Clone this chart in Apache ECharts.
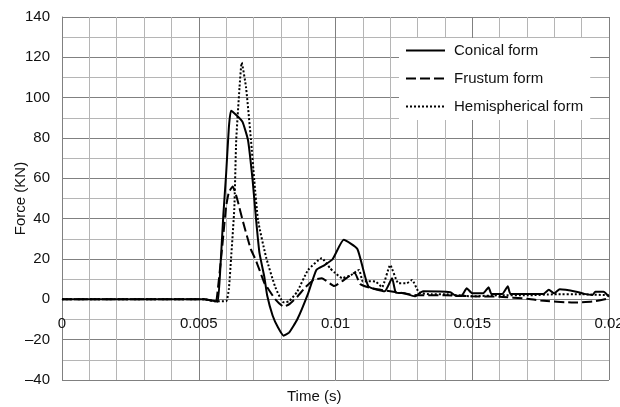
<!DOCTYPE html>
<html>
<head>
<meta charset="utf-8">
<script src="https://cdn.jsdelivr.net/npm/echarts@6/dist/echarts.min.js"></script>
<style>
  html, body { margin: 0; padding: 0; background: #fff; }
  #chart { width: 620px; height: 407px; }
</style>
</head>
<body>
<div id="chart"></div>
<script>
// [time (s), force (kN)]
const conical = [
  [0, 0], [0.0052, 0], [0.0056, -1], [0.0057, -1.2], [0.0058, 18], [0.0059, 42],
  [0.006, 62], [0.0061, 85], [0.00618, 93.5], [0.0064, 91], [0.0066, 88],
  [0.0068, 79], [0.00697, 59], [0.0071, 39], [0.00722, 23], [0.0074, 11],
  [0.0075, 2], [0.0077, -8], [0.0079, -14], [0.0081, -18], [0.0083, -16.5],
  [0.0086, -10], [0.009, 3], [0.0093, 14.6], [0.0096, 17], [0.0099, 20],
  [0.0103, 29.5], [0.0108, 25], [0.0112, 6.5], [0.0118, 4], [0.01207, 10.5],
  [0.0122, 3.5], [0.0125, 3], [0.0129, 1.5], [0.0132, 4], [0.0142, 3.5],
  [0.0144, 1.7], [0.0146, 1.7], [0.0148, 5.5], [0.015, 3], [0.0154, 3],
  [0.0156, 6], [0.0157, 2.7], [0.0161, 2.7], [0.0163, 6.5], [0.0164, 2.7],
  [0.0176, 2.7], [0.0178, 4.7], [0.018, 3], [0.0182, 5], [0.0188, 3.8],
  [0.0191, 2.7], [0.0194, 2.2], [0.0195, 3.8], [0.0198, 3.8], [0.02, 1.3]
];
const frustum = [
  [0, 0], [0.0052, 0], [0.0056, -1], [0.00565, -0.5], [0.0058, 18], [0.0059, 32],
  [0.006, 46], [0.0061, 53], [0.00624, 56], [0.0064, 50], [0.0066, 39.4],
  [0.0069, 25], [0.0071, 19], [0.0074, 8], [0.0075, 6], [0.0078, 0],
  [0.0081, -3.6], [0.0083, -2.5], [0.0086, 1.3], [0.0089, 6], [0.0092, 9.6],
  [0.0095, 10.5], [0.00995, 6.6], [0.0104, 10.5], [0.0107, 13.2], [0.0109, 7.6],
  [0.0113, 5.5], [0.012, 4], [0.0125, 3], [0.013, 2], [0.014, 2], [0.015, 1.5],
  [0.016, 1.3], [0.017, 0.3], [0.0175, -0.6], [0.0187, -1.6], [0.0194, -1.1],
  [0.02, 0.5]
];
const hemispherical = [
  [0, 0], [0.0052, 0], [0.0056, -1], [0.006, -1], [0.0061, 5], [0.00618, 20],
  [0.0063, 45], [0.00637, 79], [0.00649, 105], [0.00657, 117.4], [0.00673, 105],
  [0.00691, 79], [0.00703, 59], [0.00717, 39], [0.00746, 21], [0.0078, 6],
  [0.0081, -1.5], [0.0083, -1], [0.0086, 3.8], [0.009, 14.6], [0.0095, 20.4],
  [0.0098, 15.4], [0.00995, 13.5], [0.01025, 10.5], [0.01056, 12], [0.01086, 14.6],
  [0.011, 8.8], [0.0112, 9], [0.01147, 8.8], [0.0117, 6], [0.012, 17],
  [0.0123, 8], [0.0126, 8], [0.0128, 9.6], [0.01305, 3.5], [0.0135, 2.5],
  [0.014, 2.5], [0.015, 1.5], [0.016, 2], [0.017, 2], [0.018, 2.5], [0.019, 2.5],
  [0.02, 2]
];
const seriesNames = ["Conical form", "Frustum form", "Hemispherical form"];
const lineTypes = ["solid", [10, 4], [2, 2]];

const font = "'Liberation Sans', Arial, sans-serif";
const majorGrid = "#808080";
const minorGrid = "#b5b5b5";

// grid box in px; the time axis sits on the force = 0 line
const gridTop = 17, gridBottom = 27, plotH = 407 - gridTop - gridBottom;
const zeroOffset = -plotH * 40 / 180;

const chart = echarts.init(document.getElementById("chart"));
chart.setOption({
  animation: false,
  backgroundColor: "#fff",
  textStyle: { fontFamily: font },
  grid: {
    left: 62, right: 11, top: gridTop, bottom: gridBottom,
    containLabel: false, outerBoundsMode: "none",
  },
  legend: {
    orient: "vertical",
    left: 399,
    top: 38,
    padding: [5, 7, 6, 6],
    backgroundColor: "#fff",
    itemWidth: 39,
    itemHeight: 14,
    itemGap: 13,
    itemStyle: { opacity: 0 },
    textStyle: { fontFamily: font, fontSize: 15, color: "#111", padding: [0, 0, 0, 4] },
    data: seriesNames,
  },
  xAxis: {
    type: "value",
    min: 0,
    max: 0.02,
    interval: 0.005,
    offset: zeroOffset,
    axisLine: { show: true, onZero: false, lineStyle: { color: majorGrid } },
    axisTick: { show: false },
    axisLabel: {
      color: "#111",
      fontSize: 15,
      margin: 17,
      formatter: (v) => String(+v.toFixed(3)),
    },
    splitLine: { show: true, lineStyle: { color: majorGrid } },
    minorTick: { show: false, splitNumber: 5 },
    minorSplitLine: { show: true, lineStyle: { color: minorGrid } },
  },
  yAxis: {
    type: "value",
    min: -40,
    max: 140,
    interval: 20,
    name: "Force (KN)",
    nameLocation: "middle",
    nameGap: 34,
    nameMoveOverlap: false,
    nameTextStyle: { color: "#111", fontSize: 15 },
    axisLine: { show: true, lineStyle: { color: majorGrid } },
    axisTick: { show: false },
    axisLabel: {
      color: "#111",
      fontSize: 15,
      margin: 12,
      formatter: (v) => (v < 0 ? "\u2013" + Math.abs(v) : String(v)),
    },
    splitLine: { show: true, lineStyle: { color: majorGrid } },
    minorTick: { show: false, splitNumber: 2 },
    minorSplitLine: { show: true, lineStyle: { color: minorGrid } },
  },
  graphic: [
    {
      type: "text",
      left: 287,
      top: 389,
      style: { text: "Time (s)", fontFamily: font, fontSize: 15, fill: "#111" },
    },
  ],
  series: [conical, frustum, hemispherical].map((data, i) => ({
    name: seriesNames[i],
    type: "line",
    symbol: "none",
    smooth: 0.15,
    data: data,
    itemStyle: { color: "#000" },
    lineStyle: { color: "#000", width: 2, type: lineTypes[i] },
    z: 3 - i,
  })),
});
</script>
</body>
</html>
